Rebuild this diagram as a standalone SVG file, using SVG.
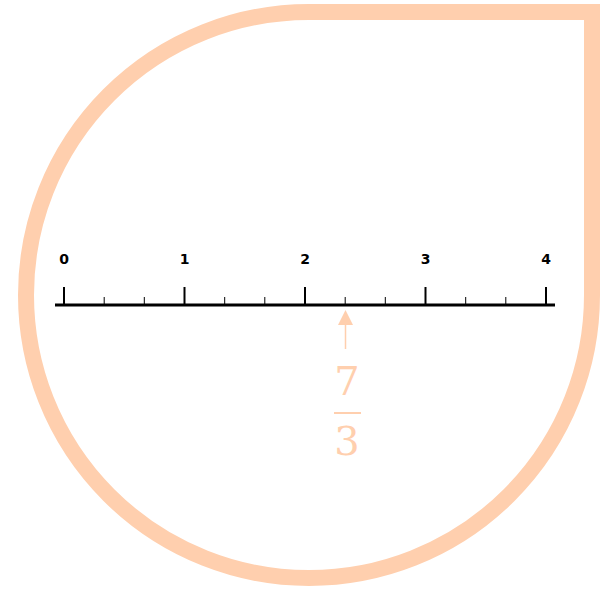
<svg xmlns="http://www.w3.org/2000/svg" width="610" height="590" viewBox="0 0 610 590">
<style>
.lbl{font-family:"DejaVu Sans",sans-serif;font-size:14px;font-weight:bold;fill:#000;text-anchor:middle}
.maj{stroke:#000;stroke-width:2}
.min{stroke:#000;stroke-width:1}
.frac{font-family:"DejaVu Serif","Liberation Serif",serif;font-size:40px;fill:#FFCFAE;text-anchor:middle}
</style>
<g id="frame">
<path d="M309 12 L592 12 L592 295 A283 283 0 1 1 309 12 Z" fill="none" stroke="#FFCFAE" stroke-width="16"/>
</g>
<g id="numberline">
<line x1="55" y1="305" x2="555" y2="305" stroke="#000" stroke-width="3"/>
<line class="maj" x1="64" y1="287" x2="64" y2="305"/>
<line class="maj" x1="184.5" y1="287" x2="184.5" y2="305"/>
<line class="maj" x1="305" y1="287" x2="305" y2="305"/>
<line class="maj" x1="425.5" y1="287" x2="425.5" y2="305"/>
<line class="maj" x1="546" y1="287" x2="546" y2="305"/>
<line class="min" x1="104.2" y1="297" x2="104.2" y2="305"/>
<line class="min" x1="144.3" y1="297" x2="144.3" y2="305"/>
<line class="min" x1="224.7" y1="297" x2="224.7" y2="305"/>
<line class="min" x1="264.8" y1="297" x2="264.8" y2="305"/>
<line class="min" x1="345.2" y1="297" x2="345.2" y2="305"/>
<line class="min" x1="385.3" y1="297" x2="385.3" y2="305"/>
<line class="min" x1="465.7" y1="297" x2="465.7" y2="305"/>
<line class="min" x1="505.8" y1="297" x2="505.8" y2="305"/>
<text class="lbl" x="64" y="264">0</text>
<text class="lbl" x="184.5" y="264">1</text>
<text class="lbl" x="305" y="264">2</text>
<text class="lbl" x="425.5" y="264">3</text>
<text class="lbl" x="546" y="264">4</text>
</g>
<g id="connectors">
<line x1="345.5" y1="349" x2="345.5" y2="322" stroke="#FFCFAE" stroke-width="1.5"/>
<polygon points="345.5,310 338,325 353,325" fill="#FFCFAE"/>
</g>
<g id="fraction">
<text class="frac" x="347" y="395">7</text>
<line x1="334" y1="413" x2="361" y2="413" stroke="#FFCFAE" stroke-width="2"/>
<text class="frac" x="347" y="455">3</text>
</g>
</svg>
